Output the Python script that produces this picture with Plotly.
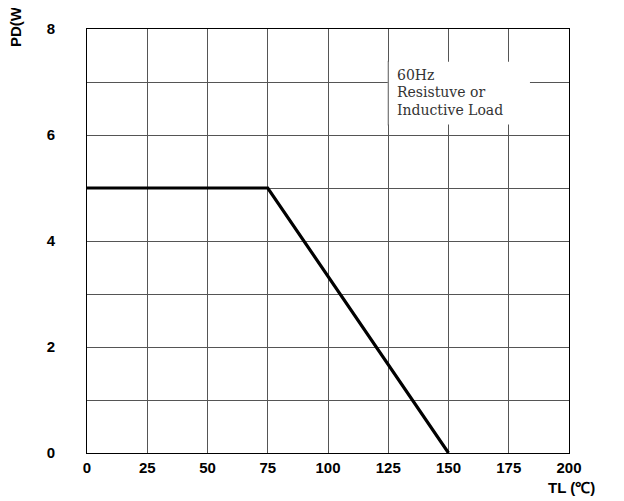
import plotly.graph_objects as go

# data
temp_c = [0, 75, 150]
power_w = [5, 5, 0]

x_ticks = [0, 25, 50, 75, 100, 125, 150, 175, 200]
x_tick_text = ["0", "25", "50", "75", "100", "125", "150", "175", "200"]
y_grid = [0, 1, 2, 3, 4, 5, 6, 7, 8]
y_tick_text = ["0", "", "2", "", "4", "", "6", "", "8"]

note_lines = ["60Hz", "Resistuve or", "Inductive Load"]

fig = go.Figure()
fig.add_trace(go.Scatter(x=temp_c, y=power_w, mode="lines",
                         line=dict(color="black", width=3.2), hoverinfo="skip",
                         showlegend=False, cliponaxis=False))

tickfont = dict(family="Liberation Sans, Arial", size=15, color="black", weight="bold")

fig.update_xaxes(range=[0, 200], tickvals=x_ticks, ticktext=x_tick_text,
                 showgrid=True, gridcolor="#555", gridwidth=1,
                 showline=True, linecolor="black", linewidth=1, mirror=True,
                 zeroline=False, ticks="", tickfont=tickfont, ticklabelstandoff=1)
fig.update_yaxes(range=[0, 8], tickvals=y_grid, ticktext=y_tick_text,
                 showgrid=True, gridcolor="#555", gridwidth=1,
                 showline=True, linecolor="black", linewidth=1, mirror=True,
                 zeroline=False, ticks="", tickfont=tickfont, ticklabelstandoff=28)

# white box behind note
fig.add_shape(type="rect", xref="x", yref="y", x0=124.8, x1=183.8, y0=6.2, y1=7.38,
              fillcolor="white", line=dict(width=0), layer="above")
fig.add_shape(type="line", xref="x", yref="y", x0=125, x1=125, y0=6.18, y1=7.4,
              line=dict(color="#555", width=1), layer="above")

note_font = dict(family="DejaVu Serif", size=14, color="#333", weight=300)
for i, t in enumerate(note_lines):
    fig.add_annotation(x=127.6, y=7.13 - i * 0.325, xref="x", yref="y", text=t,
                       showarrow=False, xanchor="left", yanchor="middle", font=note_font)

axis_font = dict(family="Liberation Sans, Arial", size=15, color="black", weight="bold")
fig.add_annotation(x=-0.147, y=0.952, xref="paper", yref="paper", text="PD(W)",
                   textangle=-90, showarrow=False, xanchor="center", yanchor="bottom",
                   font=axis_font)
fig.add_annotation(x=1.006, y=-0.081, xref="paper", yref="paper", text="TL (℃)",
                   showarrow=False, xanchor="center", yanchor="middle", font=axis_font)

fig.update_layout(width=616, height=493, margin=dict(l=79, r=55, t=14, b=48),
                  plot_bgcolor="white", paper_bgcolor="white")

fig.write_html("out.html")
